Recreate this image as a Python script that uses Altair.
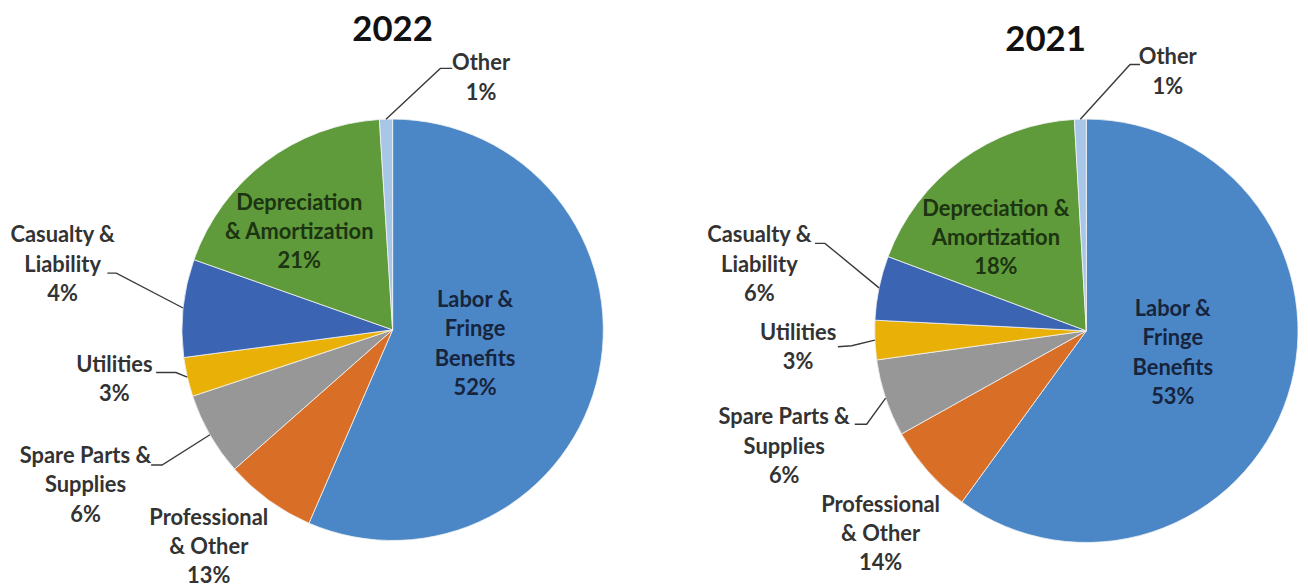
import math
import altair as alt
import pandas as pd

# ---------------- data ----------------
categories = ["Labor & Fringe Benefits", "Professional & Other", "Spare Parts & Supplies",
              "Utilities", "Casualty & Liability", "Depreciation & Amortization", "Other"]
# slice sizes as drawn in the picture (percent of the circle)
share_2022 = [56.5, 7.0, 6.4, 3.0, 7.5, 18.6, 1.0]
share_2021 = [60.0, 6.9, 5.9, 3.0, 4.9, 18.4, 0.9]
# percentages printed on the labels
label_pct_2022 = [52, 13, 6, 3, 4, 21, 1]
label_pct_2021 = [53, 14, 6, 3, 6, 18, 1]
# label wording (line breaks as printed)
label_lines_2022 = ["Labor &\nFringe\nBenefits", "Professional\n& Other", "Spare Parts &\nSupplies",
                    "Utilities", "Casualty &\nLiability", "Depreciation\n& Amortization", "Other"]
label_lines_2021 = ["Labor &\nFringe\nBenefits", "Professional\n& Other", "Spare Parts &\nSupplies",
                    "Utilities", "Casualty &\nLiability", "Depreciation &\nAmortization", "Other"]
years = ["2022", "2021"]

# ---------------- styles / layout ----------------
colors = ["#4B87C6", "#D96F26", "#979797", "#E9B007", "#3B64B2", "#5F9A3B", "#A8C6E8"]
text_colors = ["#17243d", "#333333", "#333333", "#333333", "#333333", "#1c3411", "#333333"]
OFF = 8  # page margin
W, H = 1292, 572

pies = {
    "2022": dict(cx=395, cy=330, r=212, title=(395, 28)),
    "2021": dict(cx=1093, cy=331, r=213, title=(1052, 38)),
}
# label positions (page px): centre x, first-line y, per category index
label_pos = {
    "2022": [(478, 300), (210, 519), (86, 457), (115, 365), (63, 235), (301, 202), (484, 62)],
    "2021": [(1180, 309), (886, 506), (789, 418), (803, 333), (764, 235), (1002, 208), (1175, 56)],
}
# leader lines: (label-side start, elbow) ; pie end computed from slice angle
leaders = {
    "2022": {2: [(152, 466), (163, 466)], 3: [(157, 373), (177, 373)],
             4: [(108, 273), (117, 273)], 6: [(455, 67), (443, 67)]},
    "2021": {2: [(860, 425), (872, 425)], 3: [(843, 347), (857, 346)],
             4: [(820, 243), (830, 243)], 6: [(1147, 63), (1137, 63)]},
}

shares = {"2022": share_2022, "2021": share_2021}
pcts = {"2022": label_pct_2022, "2021": label_pct_2021}
lines = {"2022": label_lines_2022, "2021": label_lines_2021}

layers = []
text_rows, line_rows, title_rows = [], [], []
for yr in years:
    p = pies[yr]
    df = pd.DataFrame({"category": categories, "share": shares[yr], "idx": list(range(len(categories)))})
    arc = alt.Chart(df).mark_arc(outerRadius=p["r"], stroke="#f4f4f4", strokeWidth=0.8).encode(
        theta=alt.Theta("share:Q", stack=True),
        order=alt.Order("idx:Q"),
        color=alt.Color("category:N", scale=alt.Scale(domain=categories, range=colors), legend=None),
        x=alt.value(p["cx"] - OFF),
        y=alt.value(p["cy"] - OFF),
    )
    layers.append(arc)
    total = sum(shares[yr])
    cum = 0.0
    for i, s in enumerate(shares[yr]):
        mid = (cum + s / 2) / total * 2 * math.pi
        cum += s
        tx, ty = label_pos[yr][i]
        text_rows.append({"text": f"{lines[yr][i]}\n{pcts[yr][i]}%", "x": tx - OFF, "y": ty - OFF,
                          "tc": text_colors[i]})
        if i in leaders[yr]:
            ex = p["cx"] + p["r"] * math.sin(mid)
            ey = p["cy"] - p["r"] * math.cos(mid)
            pts = leaders[yr][i] + [(ex, ey)]
            for k, (lx, ly) in enumerate(pts):
                line_rows.append({"id": f"{yr}-{i}", "seq": k, "x": lx - OFF, "y": ly - OFF})
    title_rows.append({"text": yr, "x": p["title"][0] - OFF, "y": p["title"][1] - OFF})

leader_layer = alt.Chart(pd.DataFrame(line_rows)).mark_line(color="#3a3a3a", strokeWidth=1.4).encode(
    x=alt.X("x:Q", scale=None, axis=None),
    y=alt.Y("y:Q", scale=None, axis=None),
    detail="id:N",
    order="seq:Q",
)
text_layer = alt.Chart(pd.DataFrame(text_rows)).mark_text(
    font="Lato", fontWeight="bold", fontSize=22, lineBreak="\n", lineHeight=29.5,
    align="center", baseline="middle",
).encode(
    x=alt.X("x:Q", scale=None, axis=None),
    y=alt.Y("y:Q", scale=None, axis=None),
    text="text:N",
    color=alt.Color("tc:N", scale=None),
)
title_layer = alt.Chart(pd.DataFrame(title_rows)).mark_text(
    font="Lato", fontWeight="bold", fontSize=35, align="center", baseline="middle", color="#111111",
).encode(
    x=alt.X("x:Q", scale=None, axis=None),
    y=alt.Y("y:Q", scale=None, axis=None),
    text="text:N",
)

chart = alt.layer(*layers, leader_layer, text_layer, title_layer).resolve_scale(
    theta="independent"
).properties(width=W, height=H, padding=0, background="white").configure_view(stroke=None)

chart.save("out.html", embed_options={"renderer": "svg", "actions": False})
